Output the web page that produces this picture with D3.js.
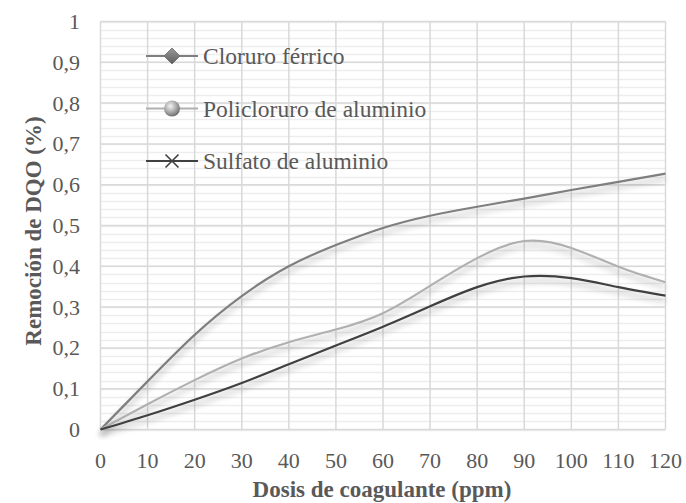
<html>
<script src="https://d3js.org/d3.v7.min.js"></script>
<body style="margin:0;background:#fff">
</body>
</html>

<script type="text/javascript">

// data
var dosis    = [0, 10, 20, 30, 40, 50, 60, 70, 80, 90, 100, 110, 120];
var cloruro  = [0, 0.118, 0.232, 0.327, 0.400, 0.452, 0.494, 0.524, 0.546, 0.566, 0.587, 0.607, 0.627];
var policlor = [0, 0.062, 0.121, 0.174, 0.214, 0.245, 0.285, 0.352, 0.42, 0.462, 0.445, 0.399, 0.361];
var sulfato  = [0, 0.035, 0.073, 0.114, 0.16, 0.206, 0.252, 0.302, 0.349, 0.375, 0.371, 0.349, 0.328];
var seriesNames = ["Cloruro férrico", "Policloruro de aluminio", "Sulfato de aluminio"];
var xTicks = [0, 10, 20, 30, 40, 50, 60, 70, 80, 90, 100, 110, 120];
var yTicks = [0, 0.1, 0.2, 0.3, 0.4, 0.5, 0.6, 0.7, 0.8, 0.9, 1];

var W = 686, H = 503;
var pLeft = 100.5, pRight = 665.5, pTop = 21.5, pBottom = 429.5;
var font = "'Liberation Serif', 'Times New Roman', serif";

var svg = d3.select("body")
	.append("svg")
	.attr("width", W)
	.attr("height", H);

var defs = svg.append("defs");

// soft shadow under the lines
var f = defs.append("filter").attr("id", "shadow")
	.attr("x", "-5%").attr("y", "-20%").attr("width", "110%").attr("height", "150%");
f.append("feGaussianBlur").attr("in", "SourceAlpha").attr("stdDeviation", 3).attr("result", "b");
f.append("feOffset").attr("in", "b").attr("dx", 0).attr("dy", 5).attr("result", "o");
f.append("feComponentTransfer").attr("in", "o").attr("result", "t")
	.append("feFuncA").attr("type", "linear").attr("slope", 0.32);
var m = f.append("feMerge");
m.append("feMergeNode").attr("in", "t");
m.append("feMergeNode").attr("in", "SourceGraphic");

// sphere gradient for legend marker
var rg = defs.append("radialGradient").attr("id", "sphere")
	.attr("cx", "40%").attr("cy", "35%").attr("r", "65%");
rg.append("stop").attr("offset", "0%").attr("stop-color", "#f4f4f4");
rg.append("stop").attr("offset", "60%").attr("stop-color", "#a8a8a8");
rg.append("stop").attr("offset", "100%").attr("stop-color", "#707070");

var lg = defs.append("linearGradient").attr("id", "diam")
	.attr("x1", "0").attr("y1", "0").attr("x2", "0").attr("y2", "1");
lg.append("stop").attr("offset", "0%").attr("stop-color", "#9a9a9a");
lg.append("stop").attr("offset", "100%").attr("stop-color", "#5e5e5e");

var x = d3.scaleLinear().domain([0, 120]).range([pLeft, pRight]);
var y = d3.scaleLinear().domain([0, 1]).range([pBottom, pTop]);

// minor horizontal grid
svg.append("g").selectAll("line")
	.data(d3.range(0, 1.0001, 0.02))
	.enter().append("line")
	.attr("x1", pLeft).attr("x2", pRight)
	.attr("y1", function(d){ return Math.round(y(d)) + 0.5; })
	.attr("y2", function(d){ return Math.round(y(d)) + 0.5; })
	.attr("stroke", "#ededed").attr("stroke-width", 1.5);

// major grid
svg.append("g").selectAll("line")
	.data(yTicks)
	.enter().append("line")
	.attr("x1", pLeft).attr("x2", pRight)
	.attr("y1", function(d){ return y(d); })
	.attr("y2", function(d){ return y(d); })
	.attr("stroke", "#d9d9d9").attr("stroke-width", 1.5);

svg.append("g").selectAll("line")
	.data(xTicks)
	.enter().append("line")
	.attr("y1", pTop).attr("y2", pBottom)
	.attr("x1", function(d){ return x(d); })
	.attr("x2", function(d){ return x(d); })
	.attr("stroke", "#d9d9d9").attr("stroke-width", 1.5);

// tick labels
svg.append("g").selectAll("text")
	.data(xTicks)
	.enter().append("text")
	.attr("x", function(d){ return x(d); })
	.attr("y", 468)
	.attr("text-anchor", "middle")
	.style("font-family", font).style("font-size", "22px").attr("fill", "#595959")
	.text(function(d){ return d; });

svg.append("g").selectAll("text")
	.data(yTicks)
	.enter().append("text")
	.attr("x", 80)
	.attr("y", function(d){ return y(d) + 7.5; })
	.attr("text-anchor", "end")
	.style("font-family", font).style("font-size", "22px").attr("fill", "#595959")
	.text(function(d){ return String(d).replace(".", ","); });

// axis titles
svg.append("text")
	.attr("x", 382).attr("y", 497)
	.attr("text-anchor", "middle")
	.style("font-family", font).style("font-size", "23px").style("font-weight", "bold")
	.attr("fill", "#595959")
	.text("Dosis de coagulante (ppm)");

svg.append("text")
	.attr("transform", "translate(41,231) rotate(-90)")
	.attr("text-anchor", "middle")
	.style("font-family", font).style("font-size", "23px").style("font-weight", "bold")
	.attr("fill", "#595959")
	.text("Remoción de DQO (%)");

// lines
var series = [
	{ name: seriesNames[0], values: cloruro,  color: "#7f7f7f" },
	{ name: seriesNames[1], values: policlor, color: "#b0b0b0" },
	{ name: seriesNames[2], values: sulfato,  color: "#404040" }
];

var line = d3.line()
	.x(function(d, i){ return x(dosis[i]); })
	.y(function(d){ return y(d); })
	.curve(d3.curveNatural);

svg.append("g").selectAll("path")
	.data(series)
	.enter().append("path")
	.attr("d", function(s){ return line(s.values); })
	.attr("fill", "none")
	.attr("stroke", function(s){ return s.color; })
	.attr("stroke-width", 2.2)
	.attr("filter", "url(#shadow)");

// legend
var legY = [56, 108.5, 161];
var leg = svg.append("g").selectAll("g")
	.data(series)
	.enter().append("g")
	.attr("transform", function(s, i){ return "translate(0," + legY[i] + ")"; });

leg.append("line")
	.attr("x1", 146).attr("x2", 198)
	.attr("stroke", function(s){ return s.color; })
	.attr("stroke-width", 2);

leg.append("text")
	.attr("x", 203).attr("y", 8)
	.style("font-family", font).style("font-size", "23.5px").attr("fill", "#595959")
	.text(function(s){ return s.name; });

leg.filter(function(s, i){ return i === 0; })
	.append("path")
	.attr("d", "M172,-8 L180,0 L172,8 L164,0 Z")
	.attr("fill", "url(#diam)").attr("stroke", "#6a6a6a").attr("stroke-width", 0.8);

leg.filter(function(s, i){ return i === 1; })
	.append("circle")
	.attr("cx", 172).attr("cy", 0).attr("r", 8)
	.attr("fill", "url(#sphere)");

leg.filter(function(s, i){ return i === 2; })
	.append("path")
	.attr("d", "M165.5,-6.5 L178.5,6.5 M165.5,6.5 L178.5,-6.5")
	.attr("stroke", "#404040").attr("stroke-width", 1.6);

</script>
